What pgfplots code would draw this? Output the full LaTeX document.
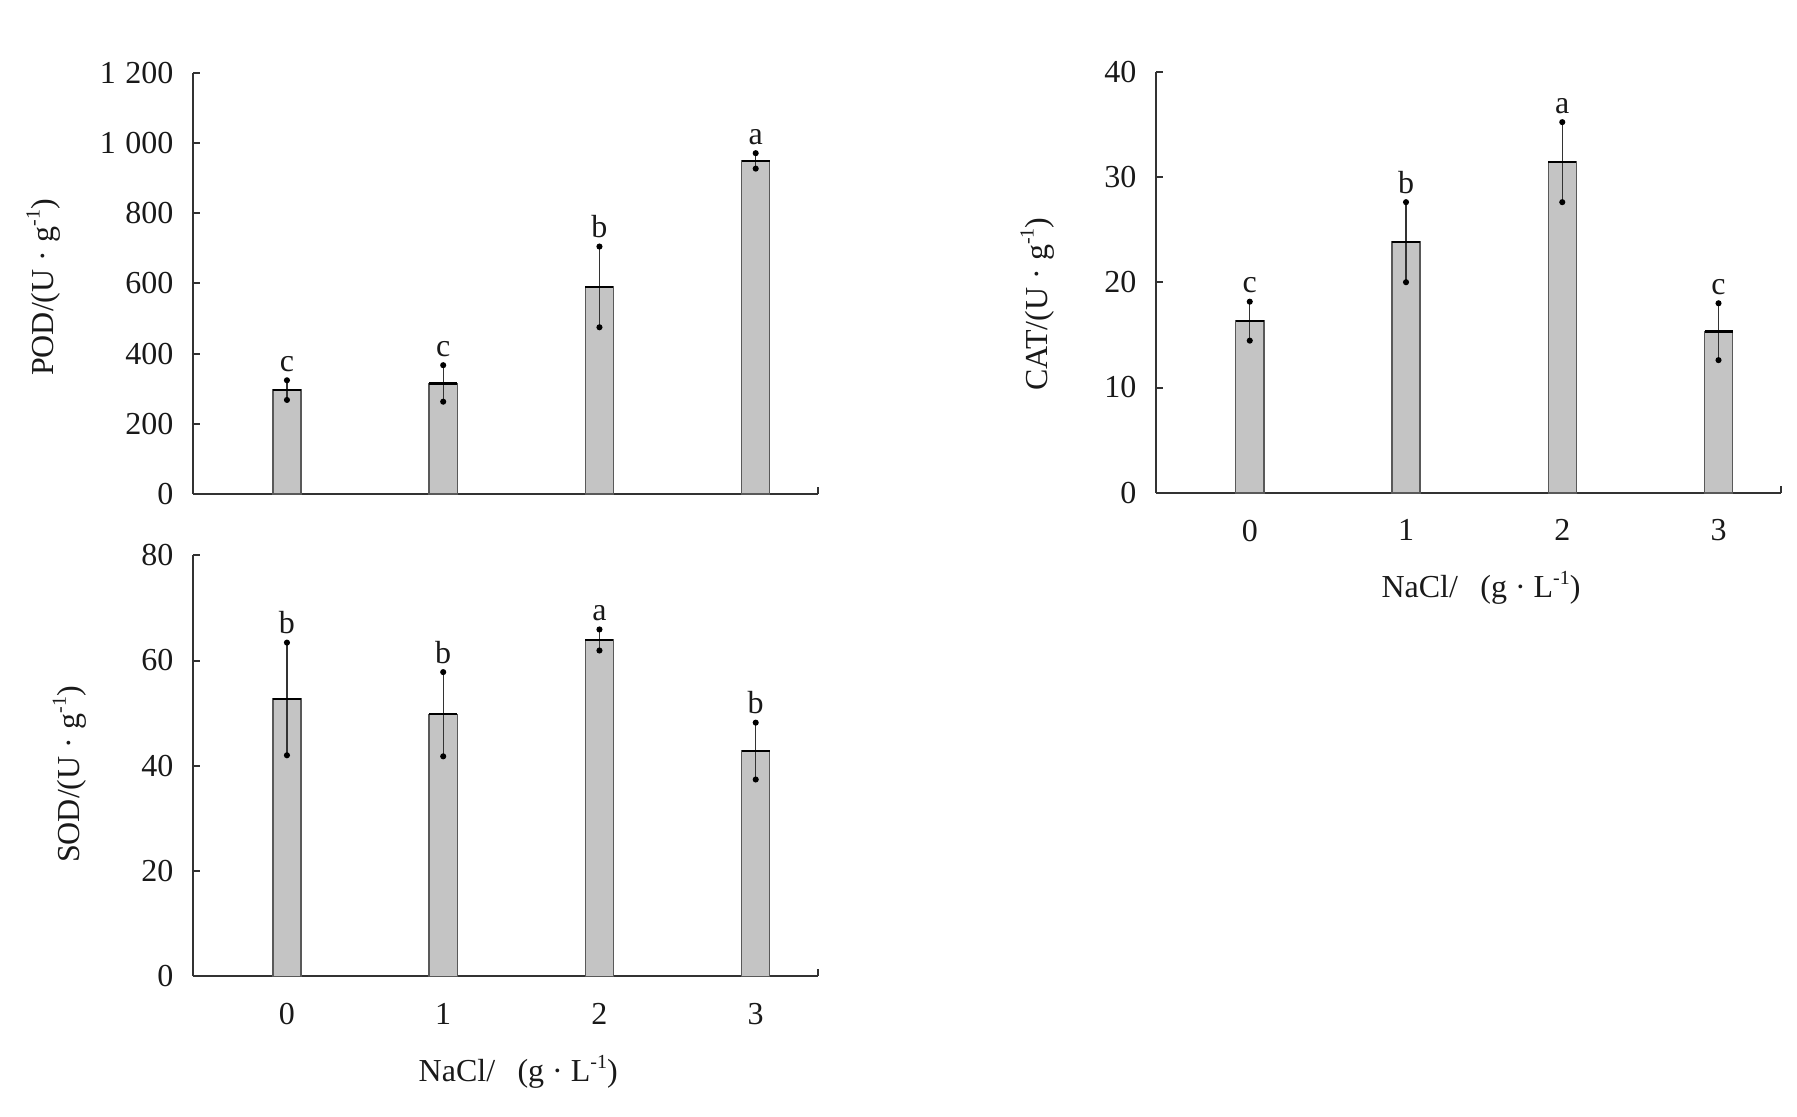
\documentclass[border=0pt]{standalone}
\usepackage{fontspec}
\setmainfont{Liberation Serif}
\usepackage{pgfplots}
\usepackage{pgfplotstable}
\pgfplotsset{compat=1.18}
\definecolor{barfill}{RGB}{196,196,196}
\definecolor{axcol}{RGB}{50,50,50}
\newcommand{\fs}{\fontsize{8pt}{9pt}\selectfont}
\newcommand{\fl}{\fontsize{8pt}{9pt}\selectfont}
\newcommand{\sups}[1]{\raisebox{0.42em}{\fontsize{5pt}{5pt}\selectfont #1}}

\pgfplotstableread{
x y err lab
0 296 28 c
1 315 52 c
2 590 115 b
3 949 22 a
}\pod
\pgfplotstableread{
x y err lab
0 16.3 1.85 c
1 23.8 3.8 b
2 31.4 3.8 a
3 15.3 2.7 c
}\cat
\pgfplotstableread{
x y err lab
0 52.7 10.7 b
1 49.8 8.0 b
2 63.9 2.0 a
3 42.8 5.4 b
}\sod

\pgfplotsset{
 panel/.style={
  scale only axis, width=156.25pt, height=105.3pt,
  axis lines=left, axis line style={-, axcol, line width=0.5pt},
  xmin=-0.6, xmax=3.4, ymin=0, clip=false,
  xtick={0,1,2,3}, xtick style={draw=none},
  ytick style={axcol, line width=0.5pt},
  tick align=inside, major tick length=1.8pt,
  tick label style={font=\fs, text=black!90},
  yticklabel style={xshift=-1.4pt},
  xticklabel style={yshift=-3.2pt},
  /pgf/number format/assume math mode=true,
  /pgf/number format/1000 sep={\hspace{0.3em}},
  xlabel={NaCl/\hspace{0.7em}(g · L\sups{-1})},
  every axis x label/.style={at={(axis description cs:0.52,0)}, anchor=center, yshift=-23.8pt, font=\fl, text=black!90},
 },
 ylab/.style 2 args={every axis y label/.style={at={(axis description cs:#1,#2)}, rotate=90, anchor=center, font=\fl, text=black!90}},
 bars/.style={ybar, bar width=0.18, fill=barfill, draw=black!65, line width=0.35pt,
  error bars/.cd, y dir=both, y explicit,
  error bar style={black!80, line width=0.35pt},
  error mark=*, error mark options={black, mark size=0.55pt}},
 tops/.style={only marks, mark=-, mark size=3.5pt, mark options={black, line width=0.6pt}},
 letters/.style={no marks, draw=none, nodes near coords, point meta=explicit symbolic,
  every node near coord/.style={anchor=base, yshift=2.2pt, font=\fl, inner sep=0pt, text=black!90}},
}

\begin{document}
\begin{tikzpicture}
\useasboundingbox (0,0) rectangle (449.25pt,279pt);

% POD
\begin{axis}[panel, at={(48.3pt,155.5pt)}, anchor=south west,
  ymax=1200, ytick={0,200,...,1200}, xticklabels={}, xlabel={},
  ylabel={POD/(U · g\sups{-1})}, ylab={-0.24}{0.49}]
\addplot[bars] table[x=x, y=y, y error=err]{\pod};
\addplot[tops] table[x=x, y=y]{\pod};
\addplot[letters] table[x=x, y expr=\thisrow{y}+\thisrow{err}, meta=lab]{\pod};
\draw[axcol, line width=0.5pt] (axis cs:3.4,0) -- ++(0pt,1.8pt);
\end{axis}

% CAT
\begin{axis}[panel, at={(289pt,155.8pt)}, anchor=south west,
  ymax=40, ytick={0,10,...,40},
  ylabel={CAT/(U · g\sups{-1})}, ylab={-0.19}{0.448}]
\addplot[bars] table[x=x, y=y, y error=err]{\cat};
\addplot[tops] table[x=x, y=y]{\cat};
\addplot[letters] table[x=x, y expr=\thisrow{y}+\thisrow{err}, meta=lab]{\cat};
\draw[axcol, line width=0.5pt] (axis cs:3.4,0) -- ++(0pt,1.8pt);
\end{axis}

% SOD
\begin{axis}[panel, at={(48.3pt,34.9pt)}, anchor=south west,
  ymax=80, ytick={0,20,...,80},
  ylabel={SOD/(U · g\sups{-1})}, ylab={-0.198}{0.479}]
\addplot[bars] table[x=x, y=y, y error=err]{\sod};
\addplot[tops] table[x=x, y=y]{\sod};
\addplot[letters] table[x=x, y expr=\thisrow{y}+\thisrow{err}, meta=lab]{\sod};
\draw[axcol, line width=0.5pt] (axis cs:3.4,0) -- ++(0pt,1.8pt);
\end{axis}
\end{tikzpicture}
\end{document}
